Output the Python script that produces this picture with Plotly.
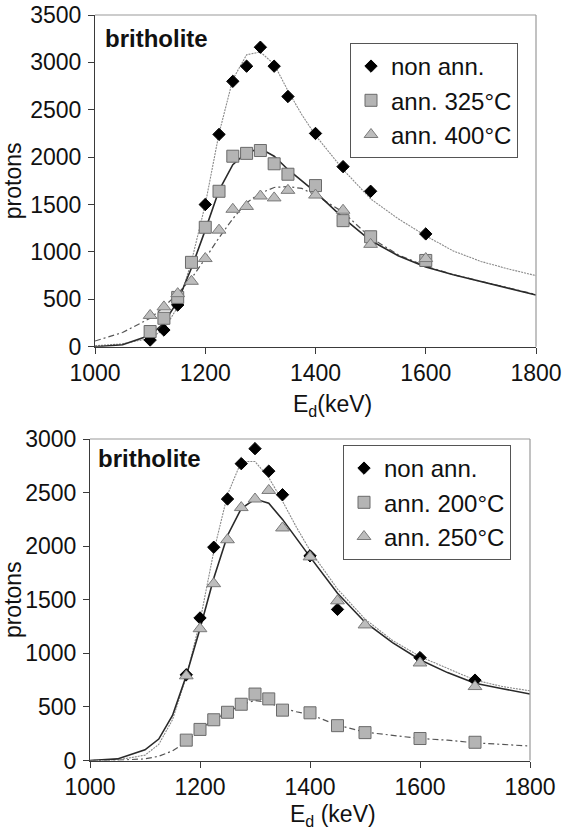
import plotly.graph_objects as go

# ---------------- data ----------------
fit_x = [1000, 1050, 1100, 1125, 1150, 1175, 1200, 1225, 1250, 1275, 1300, 1325,
         1350, 1375, 1400, 1450, 1500, 1550, 1600, 1650, 1700, 1750, 1800]

# top panel (non ann., ann. 325°C, ann. 400°C)
top_x_non = [1100, 1125, 1150, 1200, 1225, 1250, 1275, 1300, 1325, 1350, 1400, 1450, 1500, 1600]
top_y_non = [70, 176, 440, 1500, 2240, 2800, 2960, 3160, 2960, 2640, 2250, 1900, 1640, 1190]
top_x_ann = [1100, 1125, 1150, 1175, 1200, 1225, 1250, 1275, 1300, 1325, 1350, 1400, 1450, 1500, 1600]
top_y_325 = [160, 300, 520, 890, 1260, 1640, 2010, 2040, 2070, 1930, 1820, 1700, 1330, 1160, 910]
top_y_400 = [330, 420, 560, 690, 930, 1230, 1450, 1480, 1590, 1570, 1650, 1600, 1440, 1080, 930]

top_fit_non = [10, 30, 90, 180, 420, 900, 1500, 2250, 2820, 3080, 3110, 2980,
               2700, 2450, 2230, 1870, 1560, 1350, 1170, 1010, 900, 820, 750]
top_fit_325 = [0, 20, 120, 250, 480, 830, 1230, 1650, 1920, 2050, 2090, 2010,
               1870, 1750, 1630, 1360, 1120, 960, 840, 760, 690, 620, 545]
top_fit_400 = [60, 150, 300, 420, 560, 720, 930, 1150, 1350, 1520, 1620, 1680,
               1690, 1670, 1600, 1420, 1150, 970, 850, 760, 690, 620, 550]

# bottom panel (non ann., ann. 200°C, ann. 250°C)
bot_x_non = [1175, 1200, 1225, 1250, 1275, 1300, 1325, 1350, 1400, 1450, 1600, 1700]
bot_y_non = [800, 1330, 1990, 2440, 2770, 2910, 2700, 2480, 1910, 1410, 960, 750]
bot_x_ann = [1175, 1200, 1225, 1250, 1275, 1300, 1325, 1350, 1400, 1450, 1500, 1600, 1700]
bot_y_200 = [190, 290, 380, 450, 525, 620, 575, 470, 445, 325, 260, 205, 170]
bot_y_250 = [790, 1230, 1650, 2060, 2360, 2440, 2520, 2170, 1900, 1490, 1265, 910, 690]

bot_fit_non = [0, 5, 50, 150, 380, 780, 1300, 1950, 2480, 2790, 2790, 2640,
               2420, 2180, 1960, 1600, 1320, 1120, 970, 860, 750, 690, 650]
bot_fit_250 = [0, 15, 100, 200, 420, 790, 1230, 1700, 2100, 2350, 2440, 2400,
               2250, 2070, 1900, 1560, 1290, 1100, 940, 820, 720, 670, 620]
bot_fit_200 = [0, 3, 15, 40, 90, 170, 290, 380, 450, 520, 560, 540,
               490, 455, 430, 330, 265, 235, 205, 190, 165, 150, 135]

# ---------------- styles ----------------
FONT = "Liberation Sans, Arial, sans-serif"
TXT = "#111111"
DOT_C = "#8a8a8a"
SOLID_C = "#2a2a2a"
DD_C = "#555555"
SQ_FILL, SQ_LINE = "#b4b4b4", "#6a6a6a"
TR_FILL, TR_LINE = "#bdbdbd", "#7a7a7a"

fig = go.Figure()


def add_fit(x, y, xa, ya, color, dash, width):
    fig.add_trace(go.Scatter(x=x, y=y, mode="lines", xaxis=xa, yaxis=ya,
                             line=dict(color=color, dash=dash, width=width),
                             showlegend=False, hoverinfo="skip"))


def add_pts(x, y, xa, ya, name, symbol, size, fill, line, legend, group):
    fig.add_trace(go.Scatter(x=x, y=y, mode="markers", xaxis=xa, yaxis=ya, name=name,
                             marker=dict(symbol=symbol, size=size, color=fill,
                                         line=dict(color=line, width=1)),
                             legend=legend, legendgroup=group))


# top
add_fit(fit_x, top_fit_non, "x", "y", DOT_C, "2px,1px", 1.1)
add_fit(fit_x, top_fit_400, "x", "y", DD_C, "6px,3px,2px,3px", 1.2)
add_fit(fit_x, top_fit_325, "x", "y", SOLID_C, "solid", 1.6)
add_pts(top_x_non, top_y_non, "x", "y", "non ann.", "diamond", 9.5, "#000000", "#000000", "legend", "a")
add_pts(top_x_ann, top_y_325, "x", "y", "ann. 325°C", "square", 12, SQ_FILL, SQ_LINE, "legend", "b")
add_pts(top_x_ann, top_y_400, "x", "y", "ann. 400°C", "triangle-up", 12, TR_FILL, TR_LINE, "legend", "c")

# bottom
add_fit(fit_x, bot_fit_200, "x2", "y2", DD_C, "6px,3px,2px,3px", 1.2)
add_fit(fit_x, bot_fit_non, "x2", "y2", DOT_C, "2px,1px", 1.1)
add_fit(fit_x, bot_fit_250, "x2", "y2", SOLID_C, "solid", 1.6)
add_pts(bot_x_non, bot_y_non, "x2", "y2", "non ann.", "diamond", 9.5, "#000000", "#000000", "legend2", "a2")
add_pts(bot_x_ann, bot_y_200, "x2", "y2", "ann. 200°C", "square", 12, SQ_FILL, SQ_LINE, "legend2", "b2")
add_pts(bot_x_ann, bot_y_250, "x2", "y2", "ann. 250°C", "triangle-up", 12, TR_FILL, TR_LINE, "legend2", "c2")

W, H = 568, 831
top_px = dict(l=95, r=536, t=15, b=346.7)
bot_px = dict(l=90, r=530, t=439, b=760.5)


def xdom(p):
    return [p["l"] / W, p["r"] / W]


def ydom(p):
    return [1 - p["b"] / H, 1 - p["t"] / H]


axis_common = dict(showgrid=False, zeroline=False, showline=True, linecolor="#3a3a3a",
                   linewidth=1.2, ticks="outside", ticklen=6, tickcolor="#3a3a3a",
                   tickwidth=1, automargin=False,
                   tickfont=dict(family=FONT, size=23, color=TXT),
                   title_font=dict(family=FONT, size=23, color=TXT))

legend_common = dict(xanchor="left", yanchor="top", bgcolor="white",
                     bordercolor="#555555", borderwidth=1,
                     font=dict(family=FONT, size=24, color=TXT),
                     tracegroupgap=0, itemwidth=30)

fig.update_layout(
    template="none",
    width=W, height=H, margin=dict(l=0, r=0, t=0, b=0, pad=0, autoexpand=False),
    paper_bgcolor="white", plot_bgcolor="white",
    font=dict(family=FONT, color=TXT),
    xaxis=dict(domain=xdom(top_px), anchor="y", range=[1000, 1800], dtick=200, **axis_common),
    yaxis=dict(domain=ydom(top_px), anchor="x", range=[0, 3500], dtick=500,
               title=dict(text="protons", standoff=6), ticklabelstandoff=2, **axis_common),
    xaxis2=dict(domain=xdom(bot_px), anchor="y2", range=[1000, 1800], dtick=200, **axis_common),
    yaxis2=dict(domain=ydom(bot_px), anchor="x2", range=[0, 3000], dtick=500,
                title=dict(text="protons", standoff=6), ticklabelstandoff=2, **axis_common),
    legend=dict(x=350 / W, y=1 - 43 / H, **legend_common),
    legend2=dict(x=343 / W, y=1 - 445 / H, **legend_common),
    showlegend=True,
)

# light grey frame (top and right) around each plotting area
for xr, yr in (("x domain", "y domain"), ("x2 domain", "y2 domain")):
    fig.add_shape(type="line", xref=xr, yref=yr, x0=0, x1=1, y0=1, y1=1,
                  line=dict(color="#999999", width=1.2))
    fig.add_shape(type="line", xref=xr, yref=yr, x0=1, x1=1, y0=0, y1=1,
                  line=dict(color="#999999", width=1.2))

# x-axis titles
fig.add_annotation(text="E<sub>d</sub>(keV)", xref="paper", yref="paper",
                   x=332 / W, y=1 - 405 / H, xanchor="center", yanchor="middle",
                   showarrow=False, font=dict(family=FONT, size=23, color=TXT))
fig.add_annotation(text="E<sub>d</sub> (keV)", xref="paper", yref="paper",
                   x=333 / W, y=1 - 815 / H, xanchor="center", yanchor="middle",
                   showarrow=False, font=dict(family=FONT, size=23, color=TXT))

# panel labels
fig.add_annotation(text="<b>britholite</b>", xref="paper", yref="paper",
                   x=103 / W, y=1 - 38 / H, xanchor="left", yanchor="middle",
                   showarrow=False, font=dict(family=FONT, size=24, color=TXT))
fig.add_annotation(text="<b>britholite</b>", xref="paper", yref="paper",
                   x=96 / W, y=1 - 458 / H, xanchor="left", yanchor="middle",
                   showarrow=False, font=dict(family=FONT, size=24, color=TXT))

fig.write_html("out.html")
